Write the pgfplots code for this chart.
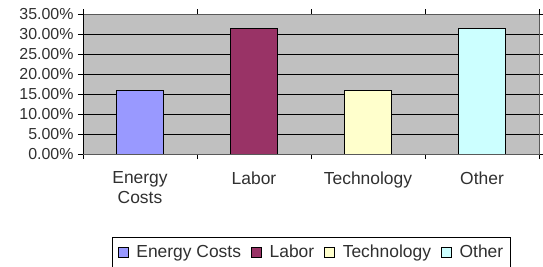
\documentclass[border=0pt]{standalone}
\usepackage{pgfplots}
\pgfplotsset{compat=1.18}
\usepackage{fontspec}
\setmainfont{Liberation Sans}
\definecolor{cEnergy}{HTML}{9999FF}
\definecolor{cLabor}{HTML}{993366}
\definecolor{cTech}{HTML}{FFFFCC}
\definecolor{cOther}{HTML}{CCFFFF}
\definecolor{plotbg}{HTML}{C0C0C0}
\definecolor{txt}{HTML}{303030}
\newcommand{\chartfont}{\fontsize{17.5}{20}\selectfont}
\newcommand{\yfont}{\fontsize{16}{18}\selectfont}
\begin{document}
\begin{tikzpicture}
\useasboundingbox (0,0) rectangle (543bp,267bp);
\begin{axis}[
  at={(83bp,113bp)}, anchor=south west,
  scale only axis, width=456bp, height=140bp,
  xmin=-0.5, xmax=3.5, ymin=0, ymax=35,
  axis background/.style={fill=plotbg},
  axis line style={draw=gray!70!black},
  ybar, bar width=0.41, bar shift=0pt,
  xtick={-0.5,0.5,1.5,2.5,3.5}, xticklabels={},
  extra x ticks={0,1,2,3},
  extra x tick labels={{Energy\\Costs},Labor,Technology,Other},
  extra x tick style={major tick length=0pt, tick label style={align=center, font=\chartfont, text=txt, yshift=-14bp}},
  ytick={0,5,...,30},
  extra y ticks={35},
  extra y tick style={grid=none},
  ymajorgrids, grid style={black, line width=0.6pt},
  tick align=outside, major tick length=5bp,
  tick style={black, line width=0.6pt},
  yticklabel={\pgfmathprintnumber[fixed,fixed zerofill,precision=2]{\tick}\%},
  /pgf/number format/assume math mode=true,
  y tick label style={font=\yfont, text=txt, xshift=-1bp},
  legend style={at={(0.5,-0.59)}, anchor=north, legend columns=4,
    draw=black, fill=white, font=\chartfont, text=txt,
    inner xsep=6bp, inner ysep=7bp,
    nodes={inner sep=1bp},
    /tikz/every odd column/.append style={column sep=7bp},
    /tikz/every even column/.append style={column sep=9bp}},
  legend image code/.code={\draw[#1,draw=black,line width=0.6pt] (0bp,-5bp) rectangle (10bp,5bp);},
]
\addplot[fill=cEnergy, draw=black, line width=0.6pt] coordinates {(0,15.9)};
\addplot[fill=cLabor, draw=black, line width=0.6pt] coordinates {(1,31.4)};
\addplot[fill=cTech, draw=black, line width=0.6pt] coordinates {(2,15.9)};
\addplot[fill=cOther, draw=black, line width=0.6pt] coordinates {(3,31.4)};
\legend{Energy Costs, Labor, Technology, Other}
\draw[black, line width=0.8pt] (rel axis cs:0,0) -- (rel axis cs:1,0);
\draw[black, line width=0.8pt] (rel axis cs:0,0) -- (rel axis cs:0,1);
\end{axis}
\end{tikzpicture}
\end{document}
